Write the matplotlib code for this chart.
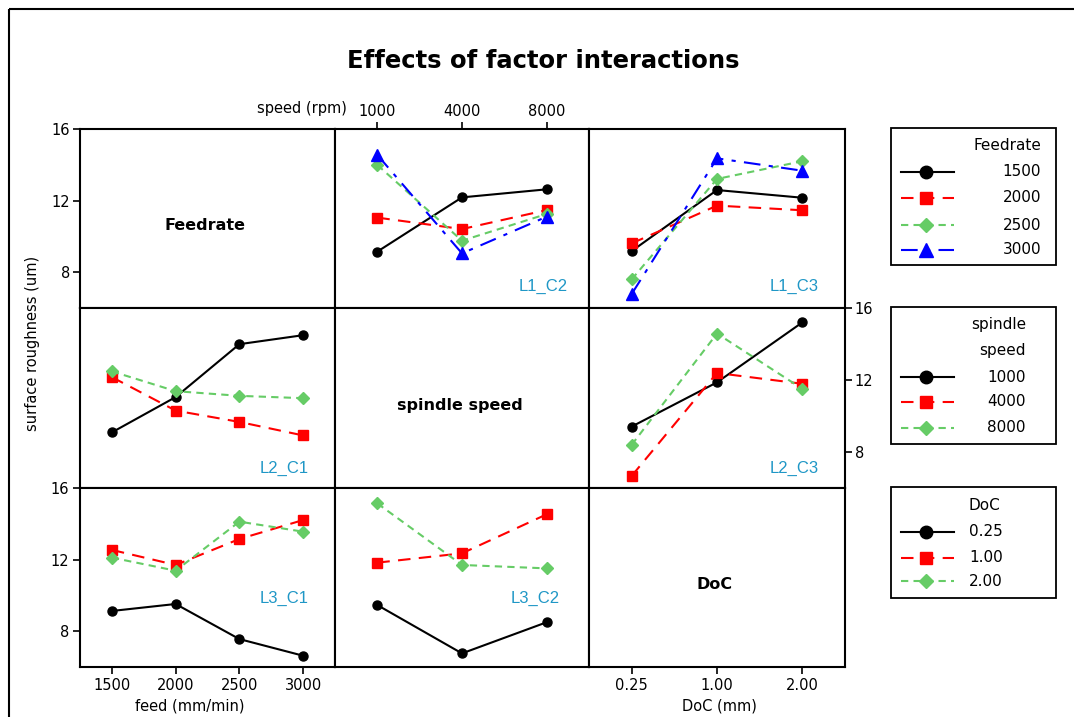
import matplotlib
matplotlib.use("Agg")
import matplotlib.pyplot as plt
from matplotlib.patches import Rectangle

# ---- factor levels -------------------------------------------------------
feed_levels = ["1500", "2000", "2500", "3000"]
speed_levels = ["1000", "4000", "8000"]
doc_levels = ["0.25", "1.00", "2.00"]

# ---- mean surface roughness (um) for each factor pair ---------------------
# speed on x, one line per feedrate
l1c2_feed = [
    [9.15, 12.18, 12.63],
    [11.05, 10.41, 11.47],
    [13.99, 9.76, 11.25],
    [14.55, 9.05, 11.10],
]
# DoC on x, one line per feedrate
l1c3_feed = [
    [9.18, 12.59, 12.16],
    [9.61, 11.72, 11.46],
    [7.60, 13.21, 14.20],
    [6.78, 14.36, 13.67],
]
# feed on x, one line per spindle speed
l2c1_speed = [
    [9.09, 11.05, 13.99, 14.49],
    [12.16, 10.30, 9.67, 8.92],
    [12.48, 11.38, 11.12, 10.99],
]
# DoC on x, one line per spindle speed
l2c3_speed = [
    [9.41, 11.87, 15.20],
    [6.67, 12.39, 11.79],
    [8.40, 14.58, 11.51],
]
# feed on x, one line per DoC
l3c1_doc = [
    [9.13, 9.52, 7.56, 6.63],
    [12.54, 11.70, 13.15, 14.21],
    [12.11, 11.38, 14.12, 13.56],
]
# speed on x, one line per DoC
l3c2_doc = [
    [9.46, 6.76, 8.50],
    [11.83, 12.35, 14.53],
    [15.14, 11.70, 11.51],
]

y_ticks = [8, 12, 16]

# ---- styling --------------------------------------------------------------
W, H = 1074, 717
plt.rcParams["font.family"] = ["DejaVu Sans"]
COLORS = ["black", "#FF0000", "#66CC66", "#0000FF"]
LSTYLES = ["-", (0, (6, 4)), (0, (3.5, 2.5)), (0, (8, 4, 2, 4))]
MARKERS = ["o", "s", "D", "^"]
MSIZE = [6.5, 6.5, 6.0, 8.0]
LEG_MSIZE = [9.0, 8.5, 7.5, 9.5]
LABEL_COLOR = "#1F97C6"
TICK_FS = 10.5

fig = plt.figure(figsize=(W / 100, H / 100), dpi=100)
fig.patch.set_facecolor("white")


def fx(px):
    return px / W


def fy(py):
    return 1 - py / H


# overlay in pixel coordinates for frame and legend boxes
over = fig.add_axes([0, 0, 1, 1], zorder=0)
over.set_xlim(0, W)
over.set_ylim(H, 0)
over.axis("off")
over.plot([9, W], [9, 9], color="black", lw=1.5, solid_capstyle="butt")
over.plot([9, 9], [9, H], color="black", lw=1.5, solid_capstyle="butt")

col_edges = [80, 335, 589, 845]
row_edges = [129, 308, 488, 667]


def make_panel(r, c):
    x0, x1 = col_edges[c], col_edges[c + 1]
    y0, y1 = row_edges[r], row_edges[r + 1]
    ax = fig.add_axes([fx(x0), fy(y1), (x1 - x0) / W, (y1 - y0) / H], zorder=2)
    ax.set_ylim(6, 16)
    for s in ax.spines.values():
        s.set_linewidth(1.5)
    ax.tick_params(which="both", direction="out", length=5, width=1.2,
                   labelsize=TICK_FS, left=False, bottom=False,
                   labelleft=False, labelbottom=False)
    ax.set_facecolor("white")
    return ax


def draw_lines(ax, series, levels):
    xs = list(range(1, len(levels) + 1))
    for i, vals in enumerate(series):
        ax.plot(xs, vals, color=COLORS[i], linestyle=LSTYLES[i], lw=1.5,
                marker=MARKERS[i], markersize=MSIZE[i],
                markerfacecolor=COLORS[i], markeredgecolor=COLORS[i])
    ax.set_xlim(0.5, len(levels) + 0.5)
    ax.set_xticks(xs)


def panel_label(ax, text, xf, yf):
    ax.text(xf, yf, text, transform=ax.transAxes, ha="center", va="center",
            color=LABEL_COLOR, fontsize=12, family=["Liberation Sans"])


def diag_label(ax, text):
    ax.text(0.49, 0.46, text, transform=ax.transAxes, ha="center",
            va="center", fontsize=11.5, fontweight="bold")
    ax.set_xticks([])


# row 1
ax = make_panel(0, 0)
diag_label(ax, "Feedrate")
ax.set_yticks(y_ticks)
ax.tick_params(left=True, labelleft=True, pad=2)

ax = make_panel(0, 1)
draw_lines(ax, l1c2_feed, speed_levels)
ax.xaxis.tick_top()
ax.set_xticklabels(speed_levels)
ax.tick_params(top=True, labeltop=True, bottom=False, labelbottom=False, pad=2)
ax.set_yticks([])
panel_label(ax, "L1_C2", 0.82, 0.12)

ax = make_panel(0, 2)
draw_lines(ax, l1c3_feed, doc_levels)
ax.set_yticks([])
panel_label(ax, "L1_C3", 0.80, 0.12)

# row 2
ax = make_panel(1, 0)
draw_lines(ax, l2c1_speed, feed_levels)
ax.set_yticks([])
panel_label(ax, "L2_C1", 0.80, 0.11)

ax = make_panel(1, 1)
diag_label(ax, "spindle speed")
ax.set_yticks([])

ax = make_panel(1, 2)
draw_lines(ax, l2c3_speed, doc_levels)
ax.yaxis.tick_right()
ax.set_yticks(y_ticks)
ax.tick_params(right=True, labelright=True, left=False, labelleft=False, pad=2)
panel_label(ax, "L2_C3", 0.80, 0.11)

# row 3
ax = make_panel(2, 0)
draw_lines(ax, l3c1_doc, feed_levels)
ax.set_xticklabels(feed_levels)
ax.set_yticks(y_ticks)
ax.tick_params(left=True, labelleft=True, bottom=True, labelbottom=True, pad=3)
panel_label(ax, "L3_C1", 0.80, 0.385)

ax = make_panel(2, 1)
draw_lines(ax, l3c2_doc, speed_levels)
ax.set_yticks([])
ax.tick_params(bottom=False, labelbottom=False)
panel_label(ax, "L3_C2", 0.79, 0.385)

ax = make_panel(2, 2)
diag_label(ax, "DoC")
ax.set_xlim(0.5, 3.5)
ax.set_xticks([1, 2, 3])
ax.set_xticklabels(doc_levels)
ax.set_yticks([])
ax.tick_params(bottom=True, labelbottom=True, pad=3)

# axis titles
fig.text(0.5 * (345 + 742) / W, fy(61), "Effects of factor interactions",
         ha="center", va="center", fontsize=17.5, fontweight="bold")
fig.text(fx(347), fy(108), "speed (rpm)", ha="right", va="center",
         fontsize=TICK_FS)
fig.text(fx(190), fy(706), "feed (mm/min)", ha="center", va="center",
         fontsize=TICK_FS)
fig.text(fx(719), fy(706), "DoC (mm)", ha="center", va="center",
         fontsize=TICK_FS)
fig.text(fx(33), fy(343), "surface roughness (um)", ha="center",
         va="center", rotation=90, fontsize=TICK_FS)


# legend boxes
def legend_box(top, bottom, title_lines, title_ha, title_x, title_ys,
               labels, label_x, label_ha, entry_ys):
    over.add_patch(Rectangle((891, top), 1056 - 891, bottom - top,
                             fill=False, lw=1.3, edgecolor="black"))
    for t, ty in zip(title_lines, title_ys):
        over.text(title_x, ty, t, ha=title_ha, va="center", fontsize=11)
    for i, (lab, ey) in enumerate(zip(labels, entry_ys)):
        over.plot([901, 954], [ey, ey], color=COLORS[i],
                  linestyle=LSTYLES[i], lw=1.5)
        over.plot([926], [ey], linestyle="none", marker=MARKERS[i],
                  markersize=LEG_MSIZE[i], color=COLORS[i])
        over.text(label_x, ey, lab, ha=label_ha, va="center", fontsize=11)


legend_box(128, 265, ["Feedrate"], "right", 1041, [145],
           feed_levels, 1041, "right", [172, 198, 225, 250])
legend_box(307, 444, ["spindle", "speed"], "right", 1026, [325, 351],
           speed_levels, 1026, "right", [377, 402, 428])
legend_box(487, 598, ["DoC"], "center", 984, [505],
           doc_levels, 1003, "right", [532, 558, 581])

fig.savefig("out.png", dpi=100, facecolor="white")
